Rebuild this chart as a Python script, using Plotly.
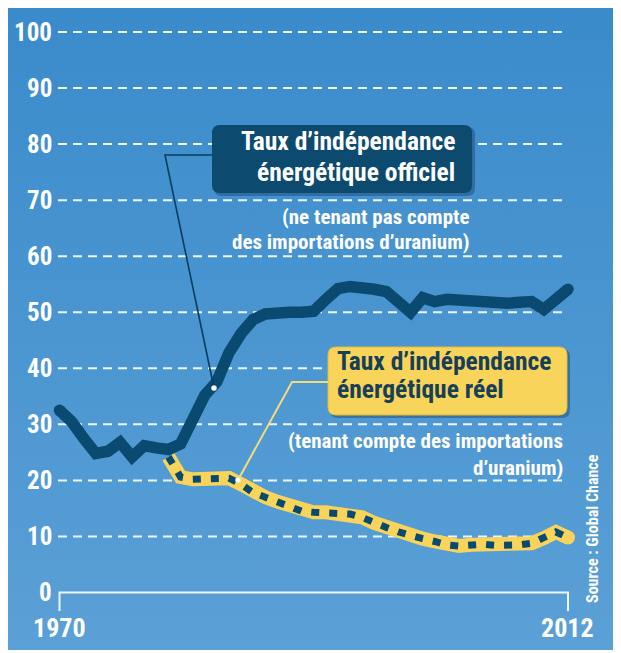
import plotly.graph_objects as go

# ---------------- data ----------------
YEARS = list(range(1970, 2013))
OFFICIAL = [32.5, 30.5, 27.5, 24.8, 25.2, 26.8, 24.2, 26.2, 25.8, 25.5,
            26.5, 31.0, 35.2, 37.6, 42.8, 46.2, 48.7, 49.7, 50.0, 50.0,
            50.0, 50.2, 52.3, 54.2, 54.6, 54.6, 54.1, 53.7, 52.0, 50.0,
            52.6, 51.9, 52.3, 52.1, 51.8, 51.6, 51.4, 51.6, 51.8, 51.9,
            50.5, 52.3, 54.1]
REAL_YEARS = list(range(1979, 2013))
REAL = [24.2, 20.6, 20.2, 20.3, 20.5, 20.4, 19.3, 17.8, 17.0, 16.2,
        15.4, 14.5, 14.3, 14.3, 14.2, 14.0, 13.4, 12.4, 11.6, 10.8,
        10.1, 9.6, 9.1, 8.5, 8.3, 8.5, 8.6, 8.4, 8.3, 8.5,
        8.8, 9.7, 10.8, 9.8]
Y_TICKS = [0, 10, 20, 30, 40, 50, 60, 70, 80, 90, 100]
X_LABELS = ["1970", "2012"]
LABEL_OFF_1 = "Taux d’indépendance"
LABEL_OFF_2 = "énergétique officiel"
SUB_OFF_1 = "(ne tenant pas compte"
SUB_OFF_2 = "des importations d’uranium)"
LABEL_REAL_1 = "Taux d’indépendance"
LABEL_REAL_2 = "énergétique réel"
SUB_REAL_1 = "(tenant compte des importations"
SUB_REAL_2 = "d’uranium)"
SOURCE = "Source : Global Chance"

# ---------------- geometry (page pixels) ----------------
PAGE_OFF = 8                               # default body margin of the html page
W, H = 621 - PAGE_OFF, 653 - PAGE_OFF
PL, PR, PT, PB = 8, 616, 8, 650            # blue panel (plot area), page pixels
X0PX, PXYR = 59.5, 12.107                  # pixel of 1970, pixels per year
Y0PX, PXU = 592.5, 5.605                   # pixel of value 0, pixels per unit


def px2x(px):
    return 1970 + (px - X0PX) / PXYR


def px2y(py):
    return (Y0PX - py) / PXU


NAVY = "#0b4a70"
YELLOW = "#f8d45a"
WHITE = "#eef5fb"
FONT = "Roboto Condensed, Open Sans Condensed, DejaVu Sans Condensed, sans-serif"

fig = go.Figure()

# background gradient panel
xa, xb = px2x(PL), px2x(PR)
ya, yb = px2y(PB), px2y(PT)
fig.add_trace(go.Scatter(
    x=[xa, xb, xb, xa, xa], y=[ya, ya, yb, yb, ya], mode="lines",
    line=dict(width=0), fill="toself",
    fillgradient=dict(type="vertical",
                      colorscale=[[0, "#5ba0d6"], [1, "#3a8bcb"]]),
    hoverinfo="skip", showlegend=False))

# dashed gridlines (as a trace so they sit above the background)
gx, gy = [], []
for v in Y_TICKS[1:]:
    gx += [px2x(58), px2x(564), None]
    gy += [v, v, None]
fig.add_trace(go.Scatter(x=gx, y=gy, mode="lines",
                         line=dict(color=WHITE, width=2, dash="9px,6px"),
                         hoverinfo="skip", showlegend=False))
# x axis with end ticks
xs, xe = int(X_LABELS[0]), int(X_LABELS[1])
yt = px2y(611)
fig.add_trace(go.Scatter(x=[xs, xs, xe, xe], y=[yt, Y_TICKS[0], Y_TICKS[0], yt],
                         mode="lines", line=dict(color=WHITE, width=2),
                         hoverinfo="skip", showlegend=False))

# official line (with round caps)
fig.add_trace(go.Scatter(x=YEARS, y=OFFICIAL, mode="lines",
                         line=dict(color=NAVY, width=11.5), hoverinfo="skip",
                         showlegend=False))
fig.add_trace(go.Scatter(x=[YEARS[0], YEARS[-1]], y=[OFFICIAL[0], OFFICIAL[-1]],
                         mode="markers", marker=dict(color=NAVY, size=11.5),
                         hoverinfo="skip", showlegend=False))
# real line: yellow band with navy dashes
fig.add_trace(go.Scatter(x=REAL_YEARS, y=REAL, mode="lines",
                         line=dict(color=YELLOW, width=14), hoverinfo="skip",
                         showlegend=False))
fig.add_trace(go.Scatter(x=[REAL_YEARS[-1]], y=[REAL[-1]],
                         mode="markers", marker=dict(color=YELLOW, size=14),
                         hoverinfo="skip", showlegend=False))
fig.add_trace(go.Scatter(x=REAL_YEARS, y=REAL, mode="lines",
                         line=dict(color=NAVY, width=7, dash="8px,10px"),
                         hoverinfo="skip", showlegend=False))

shapes = []


def rrect(x0, y0, x1, y1, r):
    X, Y = px2x, px2y
    return (f"M {X(x0+r)},{Y(y0)} L {X(x1-r)},{Y(y0)} Q {X(x1)},{Y(y0)} {X(x1)},{Y(y0+r)} "
            f"L {X(x1)},{Y(y1-r)} Q {X(x1)},{Y(y1)} {X(x1-r)},{Y(y1)} "
            f"L {X(x0+r)},{Y(y1)} Q {X(x0)},{Y(y1)} {X(x0)},{Y(y1-r)} "
            f"L {X(x0)},{Y(y0+r)} Q {X(x0)},{Y(y0)} {X(x0+r)},{Y(y0)} Z")


# box shadows + boxes
shapes.append(dict(type="path", xref="x", yref="y", path=rrect(214, 127, 475, 196, 8),
                   fillcolor="rgba(0,30,60,0.30)", line=dict(width=0)))
shapes.append(dict(type="path", xref="x", yref="y", path=rrect(212, 125, 472, 193, 8),
                   fillcolor="#0c4a6f", line=dict(width=0)))
shapes.append(dict(type="path", xref="x", yref="y", path=rrect(330, 349, 570, 418, 8),
                   fillcolor="rgba(0,30,60,0.30)", line=dict(width=0)))
shapes.append(dict(type="path", xref="x", yref="y", path=rrect(328, 347, 567, 415, 8),
                   fillcolor=YELLOW, line=dict(color="#e2b93c", width=1)))

# connectors
shapes.append(dict(type="path", xref="x", yref="y",
                   path=f"M {px2x(212)},{px2y(155)} L {px2x(165)},{px2y(155)} L {px2x(214)},{px2y(388)}",
                   line=dict(color="#0a3d5e", width=1.6)))
shapes.append(dict(type="path", xref="x", yref="y",
                   path=f"M {px2x(328)},{px2y(382)} L {px2x(292)},{px2y(382)} L {px2x(238)},{px2y(480)}",
                   line=dict(color="#f3dc7c", width=2)))
# right shadow edge
shapes.append(dict(type="rect", xref="paper", yref="paper",
                   x0=1, x1=1 + 5 / (PR - PL), y0=-3 / (PB - PT), y1=1,
                   fillcolor="#9c9c9c", line=dict(width=0)))
# connector end dots
for (px, py) in [(214, 388), (238, 480)]:
    r = 2.6
    shapes.append(dict(type="circle", xref="x", yref="y",
                       x0=px2x(px - r), x1=px2x(px + r),
                       y0=px2y(py + r), y1=px2y(py - r),
                       fillcolor="white", line=dict(color="#dddddd", width=0.5)))

ann = []


def text(s, x, y, size, color="white", xanchor="center", angle=0):
    ann.append(dict(text=s, x=px2x(x), y=px2y(y), xref="x", yref="y",
                    showarrow=False, xanchor=xanchor, yanchor="middle",
                    textangle=angle,
                    font=dict(family=FONT, size=size, color=color, weight="bold")))


# y tick labels
for v in Y_TICKS:
    ann.append(dict(text=str(v), x=px2x(54), y=v, xref="x", yref="y",
                    showarrow=False, xanchor="right", yanchor="middle",
                    font=dict(family=FONT, size=25, color="white", weight="bold")))
# x labels
for lab in X_LABELS:
    ann.append(dict(text=lab, x=int(lab), y=px2y(628), xref="x", yref="y",
                    showarrow=False, xanchor="center", yanchor="middle",
                    font=dict(family=FONT, size=26, color="white", weight="bold")))

text(LABEL_OFF_1, 457, 141, 25.5, xanchor="right")
text(LABEL_OFF_2, 457, 172, 25.5, xanchor="right")
text(SUB_OFF_1, 472, 217, 21, xanchor="right")
text(SUB_OFF_2, 472, 242, 21, xanchor="right")
text(LABEL_REAL_1, 335, 361, 25.5, color="#173f58", xanchor="left")
text(LABEL_REAL_2, 335, 389, 25.5, color="#173f58", xanchor="left")
text(SUB_REAL_1, 565, 441, 21, xanchor="right")
text(SUB_REAL_2, 565, 468, 21, xanchor="right")
text(SOURCE, 592, 529, 16, angle=-90)

fig.update_layout(
    width=W, height=H,
    margin=dict(l=PL - PAGE_OFF, r=(PAGE_OFF + W) - PR,
                t=PT - PAGE_OFF, b=(PAGE_OFF + H) - PB, pad=0),
    paper_bgcolor="white", plot_bgcolor="#4a95d0",
    xaxis=dict(range=[xa, xb], visible=False, fixedrange=True),
    yaxis=dict(range=[ya, yb], visible=False, fixedrange=True),
    shapes=shapes, annotations=ann, showlegend=False,
)

fig.write_html("out.html")
